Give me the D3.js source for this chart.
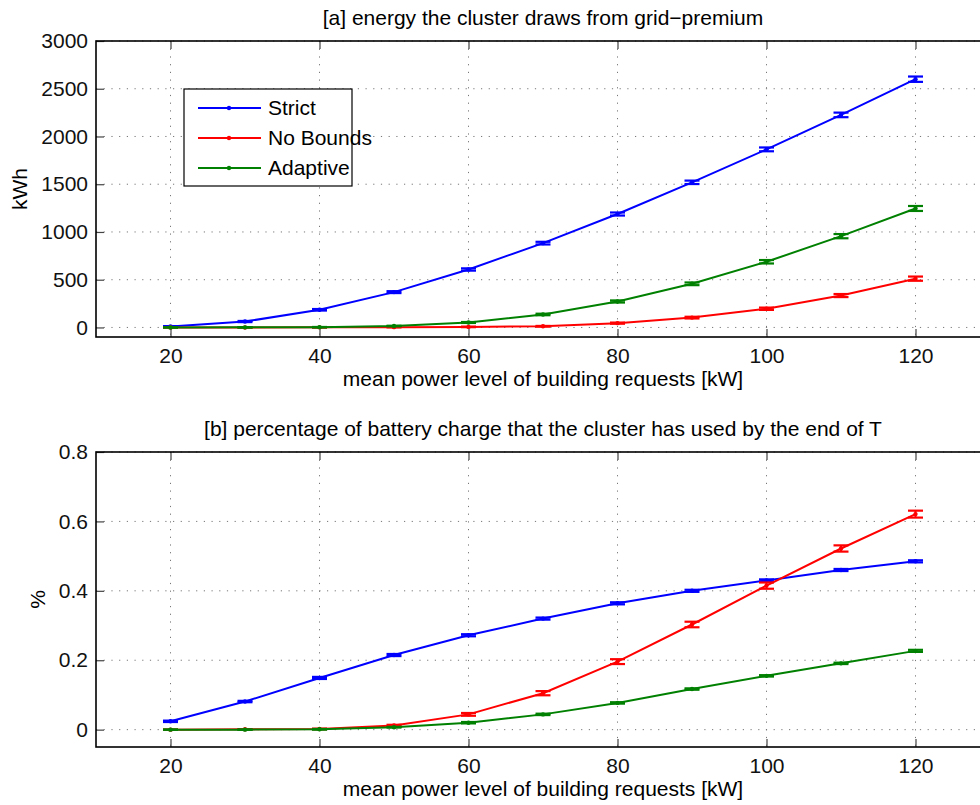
<!DOCTYPE html>
<html>
<head>
<meta charset="utf-8">
<script src="https://cdn.jsdelivr.net/npm/d3@7"></script>
<style>
  body { margin: 0; background: #fff; }
  svg { display: block; font-family: "Liberation Sans", Arial, Helvetica, sans-serif; }
  .grid line { stroke: #777; stroke-width: 1; stroke-dasharray: 1.2, 6.5; }
  .axis path { display: none; }
  .axis line { stroke: #444; stroke-width: 1.2; }
  .axis text { font-size: 21px; fill: #111; }
  .frame { fill: none; stroke: #000; stroke-width: 1.6; }
</style>
</head>
<body>
<div id="chart"></div>
<script>
// x values (mean power level, kW)
var powerLevels = [20, 30, 40, 50, 60, 70, 80, 90, 100, 110, 120]
var seriesNames = ["Strict", "No Bounds", "Adaptive"]
var seriesColors = ["#0000ff", "#ff0000", "#008000"]

// [a] energy from grid-premium, kWh
var energyStrict   = [10, 62, 185, 370, 607, 883, 1188, 1520, 1865, 2226, 2600]
var energyNoBounds = [0, 0, 1, 3, 6, 12, 45, 103, 196, 334, 511]
var energyAdaptive = [0, 1, 3, 15, 52, 136, 272, 457, 688, 956, 1246]
var energyStrictErr   = [4, 6, 8, 10, 12, 14, 16, 18, 20, 24, 28]
var energyNoBoundsErr = [0, 0, 1, 2, 3, 4, 6, 9, 12, 16, 22]
var energyAdaptiveErr = [0, 1, 2, 3, 5, 8, 11, 14, 18, 22, 26]
var energyTicks = [0, 500, 1000, 1500, 2000, 2500, 3000]

// [b] battery charge used, fraction
var batteryStrict   = [0.024, 0.081, 0.149, 0.215, 0.272, 0.32, 0.364, 0.4, 0.43, 0.46, 0.485]
var batteryNoBounds = [0.0, 0.001, 0.002, 0.012, 0.044, 0.105, 0.196, 0.303, 0.415, 0.522, 0.621]
var batteryAdaptive = [0.0, 0.0, 0.001, 0.007, 0.02, 0.044, 0.077, 0.117, 0.155, 0.191, 0.227]
var batteryStrictErr   = [0.002, 0.002, 0.003, 0.003, 0.003, 0.003, 0.003, 0.003, 0.003, 0.003, 0.003]
var batteryNoBoundsErr = [0.0, 0.0, 0.001, 0.002, 0.004, 0.006, 0.007, 0.008, 0.009, 0.009, 0.01]
var batteryAdaptiveErr = [0.0, 0.0, 0.001, 0.001, 0.002, 0.002, 0.002, 0.002, 0.002, 0.002, 0.003]
var batteryTicks = [0, 0.2, 0.4, 0.6, 0.8]

var xTicks = [20, 40, 60, 80, 100, 120]

var W = 980, H = 805

var svg = d3.select("#chart").append("svg")
    .attr("width", W)
    .attr("height", H)

function drawPanel(opt) {
    var x = d3.scaleLinear().domain([10, 130]).range([96, 990])
    var y = d3.scaleLinear().domain(opt.yDomain).range([opt.bottom, opt.top])
    var g = svg.append("g")

    // dotted grid
    var grid = g.append("g").attr("class", "grid")
    grid.selectAll(".gx").data(xTicks).enter().append("line")
        .attr("x1", d => x(d)).attr("x2", d => x(d))
        .attr("y1", opt.top).attr("y2", opt.bottom)
    grid.selectAll(".gy").data(opt.yTicks).enter().append("line")
        .attr("x1", x.range()[0]).attr("x2", x.range()[1])
        .attr("y1", d => y(d)).attr("y2", d => y(d))

    // axes, ticks pointing inwards
    g.append("g").attr("class", "axis")
        .attr("transform", "translate(0," + opt.bottom + ")")
        .call(d3.axisBottom(x).tickValues(xTicks).tickSize(-8).tickPadding(10))
        .selectAll("text").attr("dy", "0.78em")
    g.append("g").attr("class", "axis")
        .attr("transform", "translate(0," + opt.top + ")")
        .call(d3.axisTop(x).tickValues(xTicks).tickSize(-8).tickFormat(""))
    g.append("g").attr("class", "axis")
        .attr("transform", "translate(96,0)")
        .call(d3.axisLeft(y).tickValues(opt.yTicks).tickSize(-8).tickPadding(8).tickFormat(opt.fmt))

    g.append("rect").attr("class", "frame")
        .attr("x", 96).attr("y", opt.top)
        .attr("width", 990 - 96).attr("height", opt.bottom - opt.top)

    var line = d3.line().x((d, i) => x(powerLevels[i])).y(d => y(d))

    opt.series.forEach((vals, k) => {
        var col = seriesColors[k]
        var errs = opt.errors[k]
        var s = g.append("g")
        s.append("path").datum(vals)
            .attr("d", line)
            .attr("fill", "none")
            .attr("stroke", col)
            .attr("stroke-width", 2)
        var eb = s.selectAll(".eb").data(vals).enter().append("g")
        eb.append("line")
            .attr("x1", (d, i) => x(powerLevels[i])).attr("x2", (d, i) => x(powerLevels[i]))
            .attr("y1", (d, i) => y(d - errs[i])).attr("y2", (d, i) => y(d + errs[i]))
            .attr("stroke", col).attr("stroke-width", 2)
        ;[-1, 1].forEach(sg => {
            eb.append("line")
                .attr("x1", (d, i) => x(powerLevels[i]) - 7.5).attr("x2", (d, i) => x(powerLevels[i]) + 7.5)
                .attr("y1", (d, i) => y(d + sg * errs[i])).attr("y2", (d, i) => y(d + sg * errs[i]))
                .attr("stroke", col).attr("stroke-width", 2.2)
        })
        eb.append("circle")
            .attr("cx", (d, i) => x(powerLevels[i]))
            .attr("cy", d => y(d))
            .attr("r", 2.2)
            .attr("fill", col)
    })

    // title and labels
    svg.append("text")
        .attr("x", 543).attr("y", opt.titleY)
        .attr("text-anchor", "middle")
        .style("font-size", "21px")
        .text(opt.title)
    svg.append("text")
        .attr("x", 543).attr("y", opt.bottom + 49)
        .attr("text-anchor", "middle")
        .style("font-size", "21px")
        .text("mean power level of building requests [kW]")
    svg.append("text")
        .attr("transform", "translate(" + opt.yLabelX + "," + ((opt.top + opt.bottom) / 2) + ") rotate(-90)")
        .attr("text-anchor", "middle")
        .style("font-size", "21px")
        .text(opt.yLabel)
}

drawPanel({
    top: 41, bottom: 337,
    yDomain: [-100, 3000],
    yTicks: energyTicks,
    fmt: d3.format("d"),
    series: [energyStrict, energyNoBounds, energyAdaptive],
    errors: [energyStrictErr, energyNoBoundsErr, energyAdaptiveErr],
    title: "[a] energy the cluster draws from grid\u2212premium",
    titleY: 25,
    yLabel: "kWh",
    yLabelX: 27
})

drawPanel({
    top: 452, bottom: 747,
    yDomain: [-0.05, 0.8],
    yTicks: batteryTicks,
    fmt: d => d === 0 ? "0" : d3.format(".1f")(d),
    series: [batteryStrict, batteryNoBounds, batteryAdaptive],
    errors: [batteryStrictErr, batteryNoBoundsErr, batteryAdaptiveErr],
    title: "[b] percentage of battery charge that the cluster has used by the end of T",
    titleY: 436,
    yLabel: "%",
    yLabelX: 45
})

// legend (top panel)
var leg = svg.append("g")
leg.append("rect")
    .attr("x", 184).attr("y", 89).attr("width", 168).attr("height", 97)
    .attr("fill", "#fff").attr("stroke", "#000").attr("stroke-width", 1.2)
seriesNames.forEach((name, k) => {
    var ly = 108 + k * 30
    leg.append("line")
        .attr("x1", 198).attr("x2", 261).attr("y1", ly).attr("y2", ly)
        .attr("stroke", seriesColors[k]).attr("stroke-width", 2)
    leg.append("circle").attr("cx", 229).attr("cy", ly).attr("r", 2.2).attr("fill", seriesColors[k])
    leg.append("text")
        .attr("x", 268).attr("y", ly + 7)
        .style("font-size", "21px")
        .text(name)
})
</script>
</body>
</html>
